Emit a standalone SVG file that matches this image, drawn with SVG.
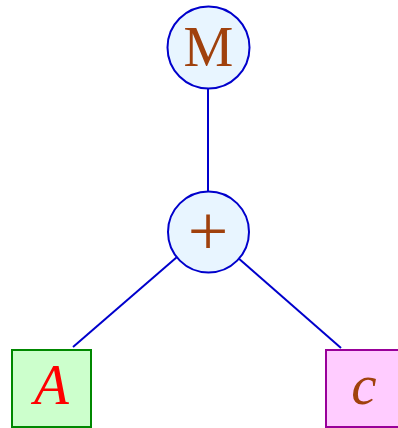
<svg xmlns="http://www.w3.org/2000/svg" width="398" height="428" viewBox="0 0 398 428">
<style>
.op{fill:#e8f5ff;stroke:#0000cc;stroke-width:2}
.t{font-family:"Liberation Serif",serif;text-anchor:middle}
.edge{stroke:#0000cc;stroke-width:2;fill:none}
</style>
<rect width="398" height="428" fill="#ffffff"/>
<g id="connectors">
<line class="edge" x1="208" y1="89" x2="208" y2="192"/>
<line class="edge" x1="177" y1="257" x2="73" y2="347"/>
<line class="edge" x1="237" y1="257" x2="341" y2="348"/>
</g>
<g id="nodeM">
<circle class="op" cx="208.5" cy="47.5" r="41"/>
<text class="t" x="208.5" y="66" font-size="56" fill="#a0410d">M</text>
</g>
<g id="nodePlus">
<circle class="op" cx="208.5" cy="232" r="40.5"/>
<text class="t" x="208" y="255" font-size="72" fill="#a0410d">+</text>
</g>
<g id="nodeA">
<rect x="12" y="350" width="79" height="77" fill="#ccffcc" stroke="#008800" stroke-width="2"/>
<text class="t" x="51.5" y="404" font-size="57" font-style="italic" fill="#ff0000">A</text>
</g>
<g id="nodeC">
<rect x="326" y="350" width="79" height="77" fill="#ffccff" stroke="#990099" stroke-width="2"/>
<text class="t" x="364" y="404" font-size="57" font-style="italic" fill="#a0410d">c</text>
</g>
</svg>
